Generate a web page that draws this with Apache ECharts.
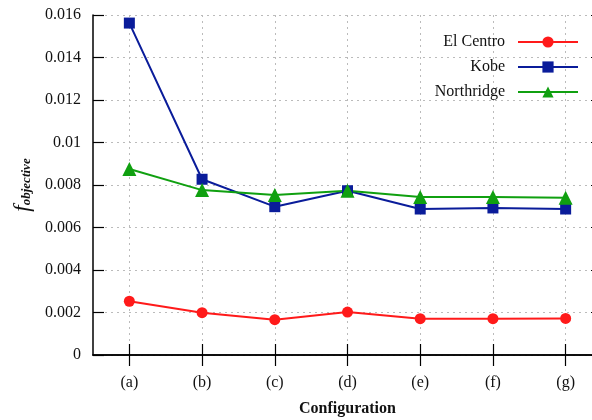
<!DOCTYPE html>
<html><head><meta charset="utf-8">
<script src="https://cdn.jsdelivr.net/npm/echarts@6/dist/echarts.min.js"></script>
<style>html,body{margin:0;padding:0;background:#fff}#c{width:592px;height:420px}</style>
</head><body><div id="c"></div>
<script>
const categories = ['(a)','(b)','(c)','(d)','(e)','(f)','(g)'];
const elCentro = [0.00253, 0.00199, 0.00166, 0.00202, 0.00171, 0.00171, 0.00172];
const kobe = [0.01562, 0.00827, 0.00698, 0.00773, 0.00687, 0.00692, 0.00687];
const northridge = [0.00875, 0.00776, 0.00753, 0.00773, 0.00744, 0.00744, 0.00740];
const yTicks = {min: 0, max: 0.016, interval: 0.002};

const FONT = '"Liberation Serif", "DejaVu Serif", serif';
const chart = echarts.init(document.getElementById('c'), null, {renderer: 'canvas'});
const axisLine = {show: true, lineStyle: {color: '#000', width: 1.5}};
const grid = {color: '#bbb', type: [2, 4], width: 1};
chart.setOption({
  animation: false,
  textStyle: {fontFamily: FONT},
  grid: {left: 93, top: 15, width: 509, height: 340, containLabel: false, outerBoundsMode: 'none'},
  legend: {
    orient: 'vertical', align: 'right', right: 8, top: 29,
    itemWidth: 60, itemHeight: 14, itemGap: 9,
    textStyle: {fontFamily: FONT, fontSize: 16, color: '#111', padding: [0, 8, 0, 0]},
    data: ['El Centro', 'Kobe', 'Northridge']
  },
  xAxis: [{
    type: 'category', data: categories, boundaryGap: true, position: 'bottom',
    axisLine, axisTick: {show: true, inside: true, length: 11, alignWithLabel: true, lineStyle: {color: '#000', width: 1.2}},
    splitLine: {show: true, alignWithLabel: true, lineStyle: grid},
    axisLabel: {fontFamily: FONT, fontSize: 16, color: '#111', margin: 20},
    name: 'Configuration', nameLocation: 'middle', nameGap: 46,
    nameTextStyle: {fontFamily: FONT, fontSize: 16, fontWeight: 'bold', color: '#111'}
  }, {
    type: 'category', data: categories, boundaryGap: true, position: 'top',
    axisLine, axisTick: {show: true, inside: true, length: 11, alignWithLabel: true, lineStyle: {color: '#000', width: 1.2}},
    axisLabel: {show: false}, splitLine: {show: false}
  }],
  yAxis: [{
    type: 'value', min: yTicks.min, max: yTicks.max, interval: yTicks.interval, position: 'left',
    axisLine, axisTick: {show: true, inside: true, length: 11, lineStyle: {color: '#000', width: 1.2}},
    splitLine: {show: true, lineStyle: grid},
    axisLabel: {fontFamily: FONT, fontSize: 16, color: '#111', margin: 12,
      formatter: v => String(+v.toFixed(4))},
    name: '{f|f}{s|objective}', nameLocation: 'middle', nameGap: 60, nameRotate: 90,
    nameTextStyle: {
      rich: {
        f: {fontFamily: FONT, fontSize: 23, fontStyle: 'italic', color: '#111', verticalAlign: 'top', lineHeight: 22},
        s: {fontFamily: FONT, fontSize: 13, fontStyle: 'italic', fontWeight: 'bold', color: '#111', verticalAlign: 'bottom', lineHeight: 22, padding: [10, 0, 0, 0]}
      }
    }
  }, {
    type: 'value', min: yTicks.min, max: yTicks.max, interval: yTicks.interval, position: 'right',
    axisLine, axisTick: {show: true, inside: true, length: 11, lineStyle: {color: '#000', width: 1.2}},
    splitLine: {show: false}, axisLabel: {show: false}
  }],
  series: [
    {name: 'El Centro', type: 'line', data: elCentro, symbol: 'circle', symbolSize: 11,
      itemStyle: {color: '#ff1a1a'}, lineStyle: {color: '#ff1a1a', width: 2}},
    {name: 'Kobe', type: 'line', data: kobe, symbol: 'rect', symbolSize: 11,
      itemStyle: {color: '#0a1c9a'}, lineStyle: {color: '#0a1c9a', width: 2}},
    {name: 'Northridge', type: 'line', data: northridge, symbol: 'triangle', symbolSize: 14,
      itemStyle: {color: '#10a010'}, lineStyle: {color: '#10a010', width: 2}}
  ]
});
</script></body></html>
